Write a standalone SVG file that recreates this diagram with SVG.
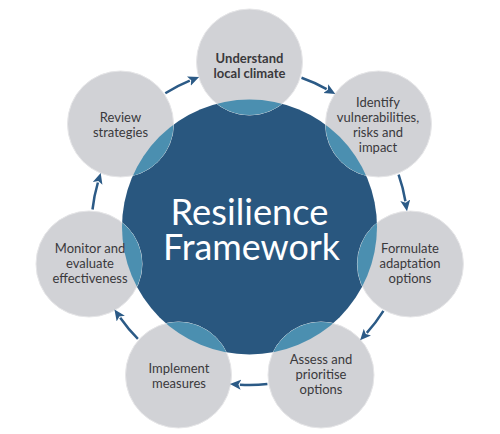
<svg xmlns="http://www.w3.org/2000/svg" width="500" height="434" viewBox="0 0 500 434">
<style>
.node{fill:#d1d2d6;stroke:#e6e6e8;stroke-width:1}
.ov{fill:#4b8fb0}
.lbl{font-family:Lato,"Open Sans","Liberation Sans",sans-serif;font-size:13px;fill:#3a393c;text-anchor:middle}
.b{font-weight:bold}
.title{font-family:Lato,"Open Sans","Liberation Sans",sans-serif;font-size:37px;fill:#ffffff;text-anchor:middle}
.arc{fill:none;stroke:#2b5a86;stroke-width:2.5;marker-end:url(#ah)}
</style>
<defs>
<clipPath id="bigc"><circle cx="249.5" cy="227" r="127.5"/></clipPath>
<marker id="ah" markerUnits="userSpaceOnUse" markerWidth="12" markerHeight="11" refX="1" refY="5" orient="auto">
<path d="M0,0 L11,5 L0,10 L2.5,5 z" fill="#2b5a86"/>
</marker>
</defs>
<rect width="500" height="434" fill="#ffffff"/>
<g id="center">
<circle cx="249.5" cy="227" r="127.5" fill="#29577f"/>
</g>
<g id="n1">
<circle class="node" cx="249.5" cy="62" r="53"/>
<circle class="ov" cx="249.5" cy="62" r="53" clip-path="url(#bigc)"/>
<text class="lbl b" x="249.5" y="63">Understand</text>
<text class="lbl b" x="249.5" y="78">local climate</text>
</g>
<g id="n2">
<circle class="node" cx="378.5" cy="124" r="53"/>
<circle class="ov" cx="378.5" cy="124" r="53" clip-path="url(#bigc)"/>
<text class="lbl" x="378" y="107">Identify</text>
<text class="lbl" x="378" y="122">vulnerabilities,</text>
<text class="lbl" x="378" y="137">risks and</text>
<text class="lbl" x="378" y="152">impact</text>
</g>
<g id="n3">
<circle class="node" cx="410.4" cy="264" r="53"/>
<circle class="ov" cx="410.4" cy="264" r="53" clip-path="url(#bigc)"/>
<text class="lbl" x="410" y="253">Formulate</text>
<text class="lbl" x="410" y="268">adaptation</text>
<text class="lbl" x="410" y="283">options</text>
</g>
<g id="n4">
<circle class="node" cx="321" cy="375" r="53"/>
<circle class="ov" cx="321" cy="375" r="53" clip-path="url(#bigc)"/>
<text class="lbl" x="321" y="364">Assess and</text>
<text class="lbl" x="321" y="379">prioritise</text>
<text class="lbl" x="321" y="394">options</text>
</g>
<g id="n5">
<circle class="node" cx="178.5" cy="375" r="53"/>
<circle class="ov" cx="178.5" cy="375" r="53" clip-path="url(#bigc)"/>
<text class="lbl" x="179" y="373">Implement</text>
<text class="lbl" x="179" y="388">measures</text>
</g>
<g id="n6">
<circle class="node" cx="89" cy="264" r="53"/>
<circle class="ov" cx="89" cy="264" r="53" clip-path="url(#bigc)"/>
<text class="lbl" x="90" y="253">Monitor and</text>
<text class="lbl" x="90" y="268">evaluate</text>
<text class="lbl" x="90" y="283">effectiveness</text>
</g>
<g id="n7">
<circle class="node" cx="120.5" cy="124" r="53"/>
<circle class="ov" cx="120.5" cy="124" r="53" clip-path="url(#bigc)"/>
<text class="lbl" x="120.5" y="122">Review</text>
<text class="lbl" x="120.5" y="137">strategies</text>
</g>
<g id="title">
<text class="title" x="249.5" y="225" textLength="158" lengthAdjust="spacingAndGlyphs">Resilience</text>
<text class="title" x="251.5" y="260" textLength="177" lengthAdjust="spacingAndGlyphs">Framework</text>
</g>
<g id="connectors">
<path class="arc" d="M301.5,77.8 A158,158 0 0 1 326.6,89.1"/>
<path class="arc" d="M398.6,174.6 A158,158 0 0 1 405.4,201.3"/>
<path class="arc" d="M383.4,310.9 A158,158 0 0 1 366.8,332.9"/>
<path class="arc" d="M267.4,384 A158,158 0 0 1 239.9,384.7"/>
<path class="arc" d="M137.9,338.9 A158,158 0 0 1 120.2,317.8"/>
<path class="arc" d="M92.5,209.5 A158,158 0 0 1 97.9,182.5"/>
<path class="arc" d="M165.3,93.3 A158,158 0 0 1 189.8,80.7"/>
</g>
</svg>
